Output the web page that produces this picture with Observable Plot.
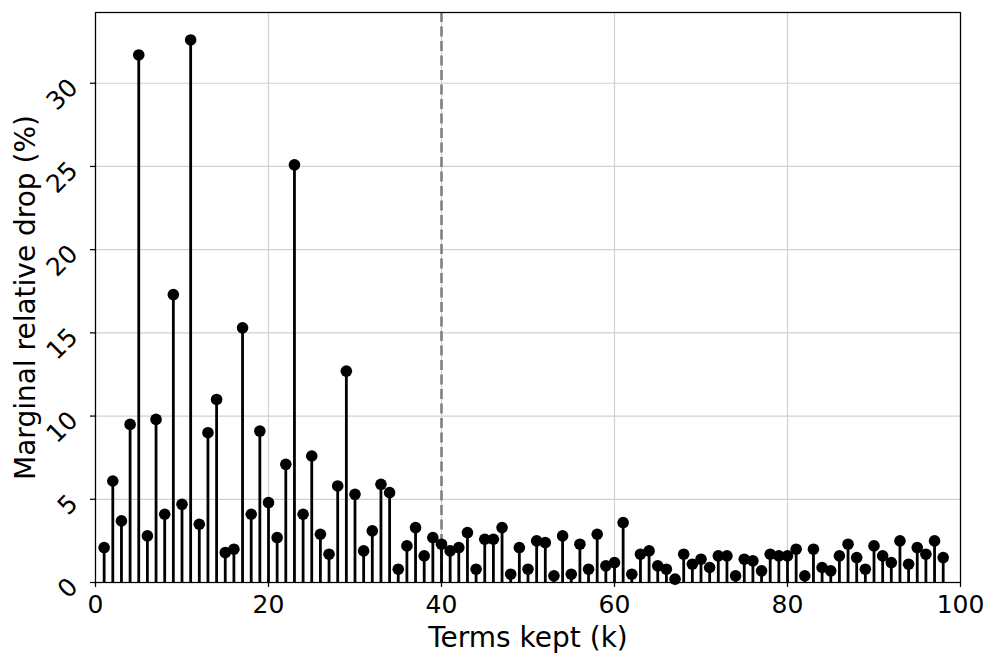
<!DOCTYPE html>
<html>
<head>
<meta charset="utf-8">
<script src="https://cdn.jsdelivr.net/npm/d3@7"></script>
<script src="https://cdn.jsdelivr.net/npm/@observablehq/plot@0.6"></script>
<style>
  html, body { margin: 0; padding: 0; background: #fff; }
  svg { display: block; }
</style>
</head>
<body>
<div id="chart"></div>
<script>
// Terms kept (k)
const terms = Array.from({length: 98}, (_, i) => i + 1);
// Marginal relative drop (%) for k = 1..98
const drops = [
  2.1, 6.1, 3.7, 9.5, 31.7, 2.8, 9.8, 4.1, 17.3, 4.7,
  32.6, 3.5, 9.0, 11.0, 1.8, 2.0, 15.3, 4.1, 9.1, 4.8,
  2.7, 7.1, 25.1, 4.1, 7.6, 2.9, 1.7, 5.8, 12.7, 5.3,
  1.9, 3.1, 5.9, 5.4, 0.8, 2.2, 3.3, 1.6, 2.7, 2.3,
  1.9, 2.1, 3.0, 0.8, 2.6, 2.6, 3.3, 0.5, 2.1, 0.8,
  2.5, 2.4, 0.4, 2.8, 0.5, 2.3, 0.8, 2.9, 1.0, 1.2,
  3.6, 0.5, 1.7, 1.9, 1.0, 0.8, 0.2, 1.7, 1.1, 1.4,
  0.9, 1.6, 1.6, 0.4, 1.4, 1.3, 0.7, 1.7, 1.6, 1.6,
  2.0, 0.4, 2.0, 0.9, 0.7, 1.6, 2.3, 1.5, 0.8, 2.2,
  1.6, 1.2, 2.5, 1.1, 2.1, 1.7, 2.5, 1.5
];
const cutoff = [40];
const xTicks = [0, 20, 40, 60, 80, 100];
const yTicks = [0, 5, 10, 15, 20, 25, 30];
const xLabel = "Terms kept (k)";
const yLabel = "Marginal relative drop (%)";

const data = terms.map((k, i) => ({k, v: drops[i]}));
const font = "DejaVu Sans";

const chart = Plot.plot({
  width: 996,
  height: 661,
  marginLeft: 95,
  marginRight: 36,
  marginTop: 12,
  marginBottom: 79,
  style: {fontFamily: font, background: "#fff", color: "#000"},
  x: {domain: [0, 100], label: null},
  y: {domain: [0, 34.25], label: null},
  marks: [
    Plot.gridX(xTicks, {stroke: "#d0d0d0", strokeOpacity: 1, strokeWidth: 1.2}),
    Plot.gridY(yTicks, {stroke: "#d0d0d0", strokeOpacity: 1, strokeWidth: 1.2}),
    Plot.ruleX(cutoff, {stroke: "#808080", strokeWidth: 2.6, strokeDasharray: "10,4.5"}),
    Plot.ruleX(data, {x: "k", y1: 0, y2: "v", stroke: "#000", strokeWidth: 2.8}),
    Plot.dot(data, {x: "k", y: "v", r: 5.8, fill: "#000", stroke: "none"}),
    Plot.axisX({ticks: xTicks, tickSize: 5, strokeWidth: 1.25, tickFormat: () => "", label: null}),
    Plot.axisY({ticks: yTicks, tickSize: 5, strokeWidth: 1.25, tickFormat: () => "", label: null}),
    Plot.text(xTicks, {x: d => d, frameAnchor: "bottom", lineAnchor: "middle", textAnchor: "middle", dy: 22, text: d => String(d), fontSize: 25, fill: "#000"}),
    Plot.text(yTicks, {y: d => d, frameAnchor: "left", lineAnchor: "middle", dx: -22, dy: 0, rotate: -45, textAnchor: "end", text: d => String(d), fontSize: 25, fill: "#000"}),
    Plot.text([xLabel], {frameAnchor: "bottom", lineAnchor: "middle", textAnchor: "middle", dy: 56, text: d => d, fontSize: 28, fill: "#000"}),
    Plot.text([yLabel], {frameAnchor: "left", lineAnchor: "middle", textAnchor: "middle", dx: -69, rotate: -90, text: d => d, fontSize: 28, fill: "#000"}),
    Plot.frame({stroke: "#000", strokeWidth: 1.25})
  ]
});
document.getElementById("chart").appendChild(chart);
</script>
</body>
</html>
